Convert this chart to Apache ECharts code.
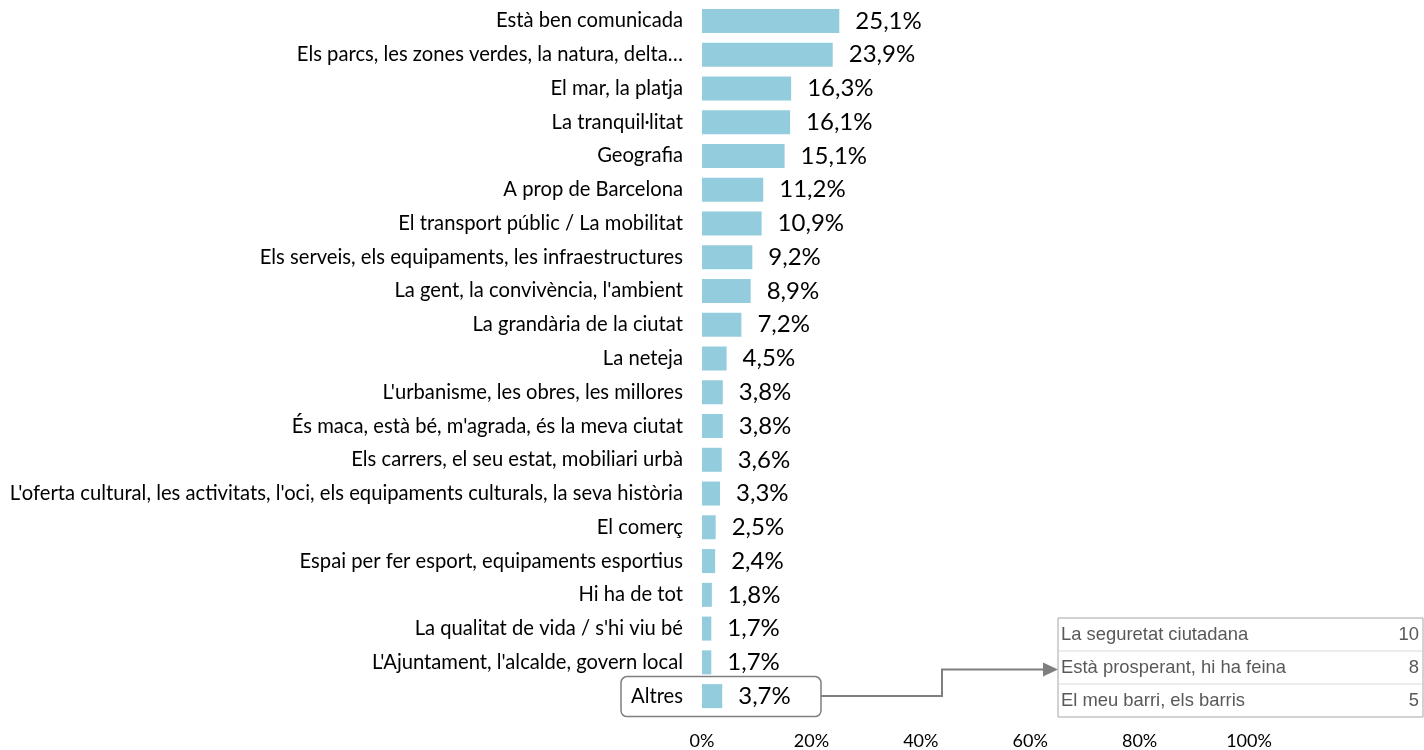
<!DOCTYPE html>
<html>
<head>
<meta charset="utf-8">
<script src="https://cdn.jsdelivr.net/npm/echarts@6/dist/echarts.min.js"></script>
<style>
html,body{margin:0;padding:0;background:#fff;}
#chart{width:1424px;height:750px;}
</style>
</head>
<body>
<div id="chart"></div>
<script>
const categories = [
  "Està ben comunicada",
  "Els parcs, les zones verdes, la natura, delta…",
  "El mar, la platja",
  "La tranquil·litat",
  "Geografia",
  "A prop de Barcelona",
  "El transport públic / La mobilitat",
  "Els serveis, els equipaments, les infraestructures",
  "La gent, la convivència, l'ambient",
  "La grandària de la ciutat",
  "La neteja",
  "L'urbanisme, les obres, les millores",
  "És maca, està bé, m'agrada, és la meva ciutat",
  "Els carrers, el seu estat, mobiliari urbà",
  "L'oferta cultural, les activitats, l'oci, els equipaments culturals, la seva història",
  "El comerç",
  "Espai per fer esport, equipaments esportius",
  "Hi ha de tot",
  "La qualitat de vida / s'hi viu bé",
  "L'Ajuntament, l'alcalde, govern local",
  "Altres"
];
const values = [25.1, 23.9, 16.3, 16.1, 15.1, 11.2, 10.9, 9.2, 8.9, 7.2, 4.5, 3.8, 3.8, 3.6, 3.3, 2.5, 2.4, 1.8, 1.7, 1.7, 3.7];
const xTicks = [0, 20, 40, 60, 80, 100];
const otherLabels = ["La seguretat ciutadana", "Està prosperant, hi ha feina", "El meu barri, els barris"];
const otherCounts = [10, 8, 5];

const chart = echarts.init(document.getElementById('chart'), null, {renderer: 'canvas'});
const option = {
  animation: false,
  backgroundColor: '#ffffff',
  grid: {left: 702, right: 175, top: 4, bottom: 36, containLabel: false},
  xAxis: {
    type: 'value',
    min: xTicks[0],
    max: xTicks[xTicks.length - 1],
    interval: xTicks[1] - xTicks[0],
    axisLine: {show: false},
    axisTick: {show: false},
    splitLine: {show: false},
    axisLabel: {
      formatter: v => v + '%',
      fontFamily: 'Lato',
      fontSize: 18,
      color: '#000',
      margin: 19
    }
  },
  yAxis: {
    type: 'category',
    inverse: true,
    data: categories,
    axisLine: {show: false},
    axisTick: {show: false},
    axisLabel: {
      fontFamily: 'Lato',
      fontSize: 20.2,
      color: '#000',
      margin: 19
    }
  },
  series: [{
    type: 'bar',
    data: values,
    barWidth: 24,
    itemStyle: {color: '#93CDDD'},
    label: {
      show: true,
      position: 'right',
      distance: 16,
      fontFamily: 'Lato',
      fontSize: 24,
      color: '#000',
      formatter: p => p.value.toFixed(1).replace('.', ',') + '%'
    }
  }]
};
chart.setOption(option);

const yA = chart.convertToPixel({yAxisIndex: 0}, categories.length - 1);
const tblX = 1058, tblW = 365, tblTop = 618, rowH = 33;
const tblH = rowH * otherLabels.length;
const yT = tblTop + rowH * 1.5 + 2;
const tblFont = '18.4px "Liberation Sans", Arial, sans-serif';
const graphics = [];
graphics.push({
  type: 'rect', shape: {x: 621, y: yA - 19.5, width: 200, height: 40, r: 6},
  style: {fill: 'none', stroke: '#7f7f7f', lineWidth: 1.5}, z: 10
});
graphics.push({
  type: 'polyline', shape: {points: [[821, yA], [942, yA], [942, yT], [1046, yT]]},
  style: {fill: 'none', stroke: '#7f7f7f', lineWidth: 2}, z: 10
});
graphics.push({
  type: 'polygon', shape: {points: [[1043, yT - 7], [1058, yT], [1043, yT + 7]]},
  style: {fill: '#7f7f7f', stroke: 'none'}, z: 10
});
graphics.push({
  type: 'rect', shape: {x: tblX, y: tblTop, width: tblW, height: tblH},
  style: {fill: '#fff', stroke: '#a6a6a6', lineWidth: 1}, z: 10
});
for (let i = 1; i < otherLabels.length; i++) {
  graphics.push({
    type: 'line', shape: {x1: tblX + 1, y1: tblTop + rowH * i, x2: tblX + tblW - 1, y2: tblTop + rowH * i},
    style: {stroke: '#d9d9d9', lineWidth: 1}, z: 11
  });
}
otherLabels.forEach((t, i) => {
  const cy = tblTop + rowH * i + rowH / 2;
  graphics.push({
    type: 'text', x: tblX + 3, y: cy,
    style: {text: t, fill: '#595959', font: tblFont, textVerticalAlign: 'middle', textAlign: 'left'}, z: 12
  });
  graphics.push({
    type: 'text', x: tblX + tblW - 4, y: cy,
    style: {text: String(otherCounts[i]), fill: '#595959', font: tblFont, textVerticalAlign: 'middle', textAlign: 'right'}, z: 12
  });
});
chart.setOption({graphic: graphics});
</script>
</body>
</html>
